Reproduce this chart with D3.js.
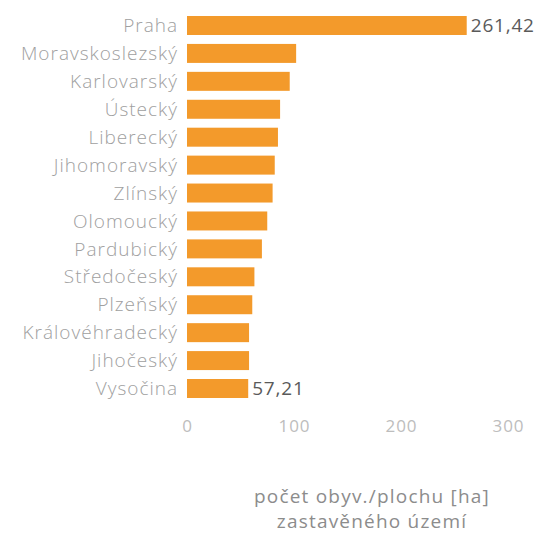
<!DOCTYPE html>
<html>
<head>
<meta charset="utf-8">
<script src="https://cdn.jsdelivr.net/npm/d3@7"></script>
<style>
  body { margin: 0; background: #fff; }
  svg { display: block; font-family: "Open Sans", sans-serif; }
</style>
</head>
<body>
<div id="chart"></div>
<script>
// kraje, seřazené podle hustoty
const regions = [
  "Praha", "Moravskoslezský", "Karlovarský", "Ústecký", "Liberecký",
  "Jihomoravský", "Zlínský", "Olomoucký", "Pardubický", "Středočeský",
  "Plzeňský", "Královéhradecký", "Jihočeský", "Vysočina"
]
const density = [261.42, 102, 96, 87, 85, 82, 80, 75, 70, 63, 61, 58, 58, 57.21]
const shownLabels = { "Praha": "261,42", "Vysočina": "57,21" }
const xTicks = [0, 100, 200, 300]
const axisTitle = ["počet obyv./plochu [ha]", "zastavěného území"]

const width = 541
const height = 537

const svg = d3.select("#chart")
  .append("svg")
  .attr("width", width)
  .attr("height", height)

const x = d3.scaleLinear()
  .domain([0, 300])
  .range([187, 508])

const y = d3.scaleBand()
  .domain(regions)
  .range([16, 398])
  .paddingInner(0.32)
  .paddingOuter(0)

// --- bars ---
svg.append("g")
  .selectAll("rect")
  .data(regions)
  .join("rect")
  .attr("x", x(0))
  .attr("y", d => y(d))
  .attr("width", (d, i) => x(density[i]) - x(0))
  .attr("height", y.bandwidth())
  .attr("fill", "#f39a2b")

// category labels
svg.append("g")
  .selectAll("text")
  .data(regions)
  .join("text")
  .attr("x", 178)
  .attr("y", d => y(d) + y.bandwidth() / 2)
  .attr("dy", "0.35em")
  .attr("text-anchor", "end")
  .attr("fill", "#a0a0a0")
  .attr("font-size", "19px")
  .attr("font-weight", 300)
  .attr("letter-spacing", "1px")
  .text(d => d)

// value labels (only first and last)
svg.append("g")
  .selectAll("text")
  .data(regions.filter(d => shownLabels[d]))
  .join("text")
  .attr("x", d => x(density[regions.indexOf(d)]) + 4)
  .attr("y", d => y(d) + y.bandwidth() / 2)
  .attr("dy", "0.35em")
  .attr("fill", "#5a5a5a")
  .attr("font-size", "19px")
  .attr("letter-spacing", "0.8px")
  .text(d => shownLabels[d])

// x axis, no line
const xAxis = d3.axisBottom(x)
  .tickValues(xTicks)
  .tickSize(0)
  .tickPadding(0)
  .tickFormat(d3.format("d"))

const gx = svg.append("g")
  .attr("transform", "translate(0,420)")
  .call(xAxis)
gx.select(".domain").remove()
gx.selectAll("text")
  .attr("fill", "#bdbdbd")
  .attr("font-size", "17px")
  .attr("letter-spacing", "1px")
  .attr("font-family", "Open Sans, sans-serif")

// axis title
svg.append("g")
  .selectAll("text")
  .data(axisTitle)
  .join("text")
  .attr("x", 372)
  .attr("y", (d, i) => 503 + i * 25)
  .attr("text-anchor", "middle")
  .attr("fill", "#8c8c8c")
  .attr("font-size", "19px")
  .attr("letter-spacing", "1.2px")
  .text(d => d)
</script>
</body>
</html>
